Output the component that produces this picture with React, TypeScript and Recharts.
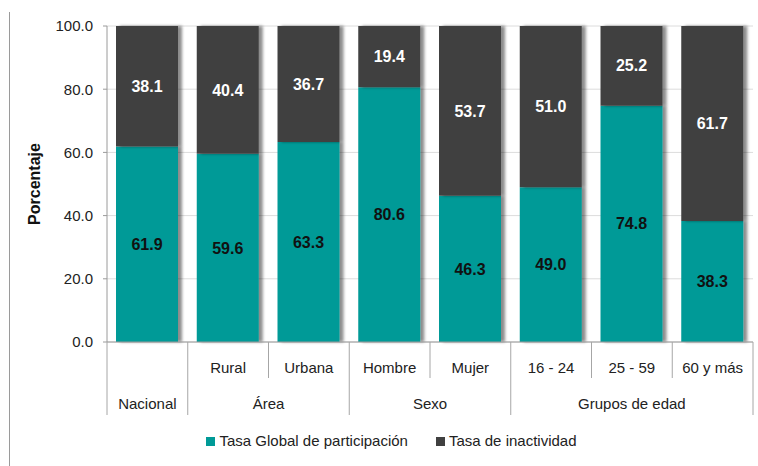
import { BarChart, Bar, XAxis, YAxis, CartesianGrid, Legend, LabelList, Rectangle } from "recharts";

const categories = ["Nacional", "Rural", "Urbana", "Hombre", "Mujer", "16 - 24", "25 - 59", "60 y más"];
const subLabels = ["", "Rural", "Urbana", "Hombre", "Mujer", "16 - 24", "25 - 59", "60 y más"];
const groupNames = ["Nacional", "Área", "Sexo", "Grupos de edad"];
const groupSpans = [1, 2, 2, 3];
const participacion = [61.9, 59.6, 63.3, 80.6, 46.3, 49.0, 74.8, 38.3];
const inactividad = [38.1, 40.4, 36.7, 19.4, 53.7, 51.0, 25.2, 61.7];
const yTicks = [0, 20, 40, 60, 80, 100];

const TEAL = "#009a97";
const DARK = "#404040";
const FONT = "'Liberation Sans Narrow', 'Arial Narrow', 'Liberation Sans', Arial, sans-serif";

const data = categories.map((c, i) => ({ cat: c, part: participacion[i], inact: inactividad[i] }));

// first index of each group
const groupStarts: number[] = [];
groupSpans.reduce((acc, s) => {
  groupStarts.push(acc);
  return acc + s;
}, 0);

const CatTick = (props: any) => {
  const { x, y, index, payload, width } = props;
  const bw = payload && payload.offset ? payload.offset * 2 : width / categories.length;
  const left = x - bw / 2;
  const g = groupStarts.indexOf(index);
  const isStart = g >= 0;
  return (
    <g>
      <line x1={left} y1={y} x2={left} y2={y + (isStart ? 73 : 36)} stroke="#a6a6a6" />
      {index === categories.length - 1 && (
        <line x1={x + bw / 2} y1={y} x2={x + bw / 2} y2={y + 73} stroke="#a6a6a6" />
      )}
      <text x={x} y={y + 31} textAnchor="middle" fontSize={15} fill="#222" fontFamily={FONT}>
        {subLabels[index]}
      </text>
      {isStart && (
        <text x={left + (groupSpans[g] * bw) / 2} y={y + 67} textAnchor="middle" fontSize={15} fill="#222" fontFamily={FONT}>
          {groupNames[g]}
        </text>
      )}
    </g>
  );
};

const LegendBox = () => (
  <div style={{ display: "flex", justifyContent: "center", gap: 28, fontFamily: FONT, fontSize: 15, color: "#222", height: 20, lineHeight: "20px", paddingLeft: 30 }}>
    <span style={{ display: "flex", alignItems: "center" }}>
      <span style={{ width: 9, height: 9, background: TEAL, marginRight: 4, display: "inline-block" }} />
      Tasa Global de participación
    </span>
    <span style={{ display: "flex", alignItems: "center" }}>
      <span style={{ width: 9, height: 9, background: DARK, marginRight: 4, display: "inline-block" }} />
      Tasa de inactividad
    </span>
  </div>
);

const shadowShape = (p: any) => <Rectangle {...p} filter="url(#barShadow)" />;

export default function App() {
  return (
    <div style={{ position: "absolute", left: 0, top: 0, width: 758, height: 466, background: "#fff" }}>
      <div style={{ position: "absolute", left: 9, top: 12, width: 1, height: 454, background: "#9a9a9a" }} />
      <BarChart
        width={758}
        height={466}
        data={data}
        margin={{ top: 26, right: 5, left: 0, bottom: 15 }}
        barSize={62}
      >
        <defs>
          <filter id="barShadow" x="-10%" y="-5%" width="130%" height="110%">
            <feDropShadow dx={4} dy={0} stdDeviation={1.6} floodColor="#000" floodOpacity={0.45} />
          </filter>
        </defs>
        <CartesianGrid vertical={false} stroke="#dcdcdc" />
        <XAxis
          dataKey="cat"
          interval={0}
          height={89}
          tickSize={0}
          tickMargin={0}
          tick={<CatTick />}
          axisLine={{ stroke: "#9a9a9a" }}
          tickLine={false}
        />
        <YAxis
          width={107}
          domain={[0, 100]}
          ticks={yTicks}
          tickFormatter={(v: number) => v.toFixed(1)}
          tick={{ fontSize: 15, fill: "#222", fontFamily: FONT }}
          tickSize={4}
          tickMargin={10}
          axisLine={{ stroke: "#9a9a9a" }}
          tickLine={{ stroke: "#9a9a9a" }}
          label={{
            value: "Porcentaje",
            angle: -90,
            position: "insideLeft",
            offset: 34,
            style: { fontSize: 16, fontWeight: "bold", fill: "#111", fontFamily: FONT, textAnchor: "middle" },
          }}
        />
        <Legend verticalAlign="bottom" height={20} content={<LegendBox />} />
        <Bar dataKey="part" stackId="a" fill={TEAL} isAnimationActive={false} shape={shadowShape}>
          <LabelList dataKey="part" position="center" formatter={(v: any) => Number(v).toFixed(1)} style={{ fontSize: 16, fontWeight: "bold", fill: "#111", fontFamily: FONT }} />
        </Bar>
        <Bar dataKey="inact" stackId="a" fill={DARK} isAnimationActive={false} shape={shadowShape}>
          <LabelList dataKey="inact" position="center" formatter={(v: any) => Number(v).toFixed(1)} style={{ fontSize: 16, fontWeight: "bold", fill: "#fff", fontFamily: FONT }} />
        </Bar>
      </BarChart>
    </div>
  );
}
